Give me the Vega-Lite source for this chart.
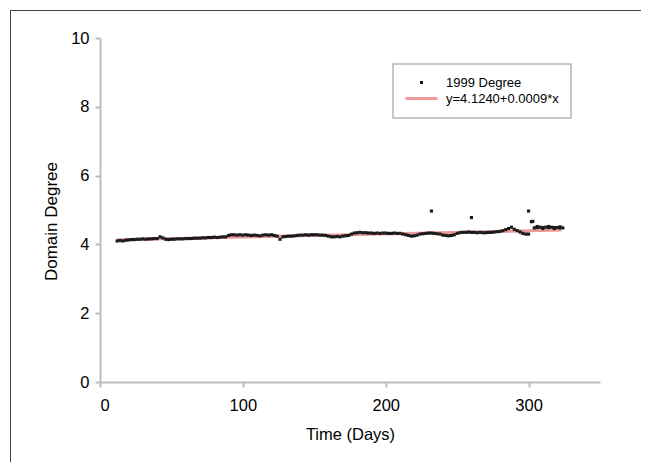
{
  "$schema": "https://vega.github.io/schema/vega-lite/v6.json",
  "width": 631,
  "height": 460,
  "autosize": "none",
  "padding": {"left": 10, "top": 10, "right": 0, "bottom": 0},
  "background": "white",
  "config": {
    "view": {"stroke": "#444444", "strokeWidth": 1},
    "font": "Liberation Sans"
  },
  "datasets": {
    "points": [
      {"day":12,"degree":4.10},{"day":14,"degree":4.11},{"day":16,"degree":4.10},{"day":18,"degree":4.12},{"day":20,"degree":4.13},
      {"day":22,"degree":4.14},{"day":24,"degree":4.14},{"day":26,"degree":4.15},{"day":28,"degree":4.15},{"day":30,"degree":4.16},
      {"day":32,"degree":4.15},{"day":34,"degree":4.16},{"day":36,"degree":4.16},{"day":38,"degree":4.17},{"day":40,"degree":4.17},
      {"day":42,"degree":4.22},{"day":44,"degree":4.19},{"day":46,"degree":4.15},{"day":48,"degree":4.14},{"day":50,"degree":4.15},
      {"day":52,"degree":4.15},{"day":54,"degree":4.16},{"day":56,"degree":4.16},{"day":58,"degree":4.16},{"day":60,"degree":4.17},
      {"day":62,"degree":4.17},{"day":64,"degree":4.17},{"day":66,"degree":4.18},{"day":68,"degree":4.18},{"day":70,"degree":4.18},
      {"day":72,"degree":4.19},{"day":74,"degree":4.19},{"day":76,"degree":4.20},{"day":78,"degree":4.20},{"day":80,"degree":4.21},
      {"day":82,"degree":4.20},{"day":84,"degree":4.21},{"day":86,"degree":4.22},{"day":88,"degree":4.22},{"day":90,"degree":4.26},
      {"day":92,"degree":4.28},{"day":94,"degree":4.28},{"day":96,"degree":4.27},{"day":98,"degree":4.28},{"day":100,"degree":4.27},
      {"day":102,"degree":4.28},{"day":104,"degree":4.27},{"day":106,"degree":4.26},{"day":108,"degree":4.27},{"day":110,"degree":4.26},
      {"day":112,"degree":4.25},{"day":114,"degree":4.27},{"day":116,"degree":4.28},{"day":118,"degree":4.27},{"day":120,"degree":4.28},
      {"day":122,"degree":4.26},{"day":124,"degree":4.24},{"day":126,"degree":4.15},{"day":128,"degree":4.22},{"day":130,"degree":4.23},
      {"day":132,"degree":4.24},{"day":134,"degree":4.24},{"day":136,"degree":4.25},{"day":138,"degree":4.26},{"day":140,"degree":4.27},
      {"day":142,"degree":4.27},{"day":144,"degree":4.28},{"day":146,"degree":4.27},{"day":148,"degree":4.28},{"day":150,"degree":4.28},
      {"day":152,"degree":4.28},{"day":154,"degree":4.27},{"day":156,"degree":4.27},{"day":158,"degree":4.26},{"day":160,"degree":4.24},
      {"day":162,"degree":4.22},{"day":164,"degree":4.22},{"day":166,"degree":4.23},{"day":168,"degree":4.22},{"day":170,"degree":4.24},
      {"day":172,"degree":4.25},{"day":174,"degree":4.26},{"day":176,"degree":4.30},{"day":178,"degree":4.33},{"day":180,"degree":4.34},
      {"day":182,"degree":4.35},{"day":184,"degree":4.34},{"day":186,"degree":4.34},{"day":188,"degree":4.33},{"day":190,"degree":4.33},
      {"day":192,"degree":4.32},{"day":194,"degree":4.33},{"day":196,"degree":4.32},{"day":198,"degree":4.33},{"day":200,"degree":4.33},
      {"day":202,"degree":4.32},{"day":204,"degree":4.32},{"day":206,"degree":4.33},{"day":208,"degree":4.32},{"day":210,"degree":4.32},
      {"day":212,"degree":4.30},{"day":214,"degree":4.28},{"day":216,"degree":4.26},{"day":218,"degree":4.24},{"day":220,"degree":4.25},
      {"day":222,"degree":4.27},{"day":224,"degree":4.30},{"day":226,"degree":4.31},{"day":228,"degree":4.32},{"day":230,"degree":4.33},
      {"day":232,"degree":4.33},{"day":232,"degree":4.97},{"day":234,"degree":4.32},{"day":236,"degree":4.31},{"day":238,"degree":4.30},
      {"day":240,"degree":4.27},{"day":242,"degree":4.26},{"day":244,"degree":4.25},{"day":246,"degree":4.26},{"day":248,"degree":4.28},
      {"day":250,"degree":4.32},{"day":252,"degree":4.34},{"day":254,"degree":4.35},{"day":256,"degree":4.35},{"day":258,"degree":4.36},
      {"day":260,"degree":4.35},{"day":260,"degree":4.78},{"day":262,"degree":4.35},{"day":264,"degree":4.34},{"day":266,"degree":4.35},
      {"day":268,"degree":4.34},{"day":270,"degree":4.34},{"day":272,"degree":4.35},{"day":274,"degree":4.35},{"day":276,"degree":4.36},
      {"day":278,"degree":4.37},{"day":280,"degree":4.38},{"day":282,"degree":4.40},{"day":284,"degree":4.43},{"day":286,"degree":4.46},
      {"day":288,"degree":4.50},{"day":290,"degree":4.44},{"day":292,"degree":4.40},{"day":294,"degree":4.36},{"day":296,"degree":4.32},
      {"day":298,"degree":4.30},{"day":300,"degree":4.30},{"day":300,"degree":4.97},{"day":302,"degree":4.66},{"day":303,"degree":4.67},
      {"day":304,"degree":4.48},{"day":306,"degree":4.49},{"day":306,"degree":4.52},{"day":308,"degree":4.50},{"day":310,"degree":4.49},
      {"day":310,"degree":4.46},{"day":312,"degree":4.50},{"day":314,"degree":4.49},{"day":314,"degree":4.52},{"day":316,"degree":4.50},
      {"day":318,"degree":4.49},{"day":318,"degree":4.46},{"day":320,"degree":4.49},{"day":322,"degree":4.48},{"day":322,"degree":4.51},
      {"day":324,"degree":4.48}
    ],
    "fit": [
      {"day": 12, "degree": 4.135},
      {"day": 323, "degree": 4.415}
    ]
  },
  "layer": [
    {
      "data": {"name": "fit"},
      "mark": {"type": "line", "strokeWidth": 3},
      "encoding": {
        "x": {
          "field": "day", "type": "quantitative",
          "scale": {"domain": [0, 350], "range": [90, 590], "nice": false, "zero": false},
          "axis": {
            "title": "Time (Days)", "orient": "bottom", "offset": -88,
            "values": [0, 100, 200, 300], "grid": false,
            "domainColor": "#bdbdbd", "domainWidth": 2,
            "tickColor": "#bdbdbd", "tickWidth": 2, "tickSize": 5,
            "labelFontSize": 16.5, "labelColor": "#000000", "labelBaseline": "alphabetic", "labelPadding": 23,
            "labelFont": "Liberation Sans",
            "titleFontSize": 16.5, "titleFontWeight": "normal", "titleColor": "#000000", "titleFont": "Liberation Sans",
            "titleBaseline": "alphabetic", "titleY": 57
          }
        },
        "y": {
          "field": "degree", "type": "quantitative",
          "scale": {"domain": [0, 10], "range": [372, 28], "nice": false, "zero": false},
          "axis": {
            "title": "Domain Degree", "orient": "left", "offset": -90,
            "values": [0, 2, 4, 6, 8, 10], "grid": false,
            "domainColor": "#bdbdbd", "domainWidth": 2,
            "tickColor": "#bdbdbd", "tickWidth": 2, "tickSize": 5,
            "labelFontSize": 16.5, "labelColor": "#000000", "labelPadding": 6,
            "labelFont": "Liberation Sans",
            "titleFontSize": 17, "titleFontWeight": "normal", "titleColor": "#000000", "titleFont": "Liberation Sans",
            "titleBaseline": "bottom", "titleX": -40, "titleY": 211
          }
        },
        "color": {
          "datum": "y=4.1240+0.0009*x", "type": "nominal",
          "scale": {"domain": ["1999 Degree", "y=4.1240+0.0009*x"], "range": ["#1a1a1a", "#ee9a9a"]},
          "legend": {
            "title": null, "orient": "none", "legendX": 383, "legendY": 54,
            "padding": 12, "strokeColor": "#b5b5b5", "fillColor": "#ffffff",
            "labelFontSize": 13, "labelFont": "Liberation Sans", "labelColor": "#000000",
            "labelOffset": 18, "symbolOffset": 10, "rowPadding": 2, "labelLimit": 300, "symbolSize": 100,
            "encode": {
              "legend": {"update": {"strokeWidth": {"value": 1.5}}},
              "symbols": {"update": {
                "shape": {"signal": "datum.value === '1999 Degree' ? 'square' : 'stroke'"},
                "size": {"signal": "datum.value === '1999 Degree' ? 9 : 1024"},
                "fill": {"scale": "color", "field": "value"},
                "stroke": {"scale": "color", "field": "value"},
                "strokeWidth": {"signal": "datum.value === '1999 Degree' ? 0 : 3"},
                "opacity": {"value": 1}
              }}
            }
          }
        }
      }
    },
    {
      "data": {"name": "points"},
      "mark": {"type": "point", "shape": "square", "filled": true, "size": 10, "opacity": 1},
      "encoding": {
        "x": {"field": "day", "type": "quantitative"},
        "y": {"field": "degree", "type": "quantitative"},
        "color": {"datum": "1999 Degree", "type": "nominal"}
      }
    },
    {
      "mark": {"type": "rule", "color": "#c8c8c8", "strokeWidth": 2},
      "encoding": {
        "x": {"datum": 0, "type": "quantitative"},
        "x2": {"datum": 350},
        "y": {"datum": 10, "type": "quantitative"}
      }
    },
    {
      "mark": {"type": "rule", "color": "#c8c8c8", "strokeWidth": 2},
      "encoding": {
        "x": {"datum": 350, "type": "quantitative"},
        "y": {"datum": 0, "type": "quantitative"},
        "y2": {"datum": 10}
      }
    }
  ]
}
